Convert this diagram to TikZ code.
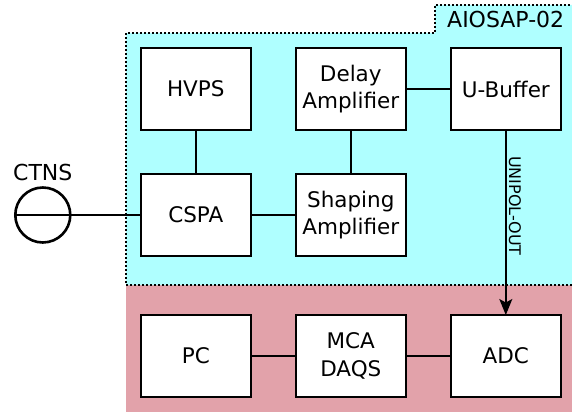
\documentclass[tikz,border=0pt]{standalone}
\usepackage{fontspec}
\setmainfont{DejaVu Sans}
\usepackage{tikz}
\usetikzlibrary{positioning,arrows.meta}
\definecolor{aiocyan}{RGB}{175,255,255}
\definecolor{daqpink}{RGB}{226,162,170}

\begin{document}
\begin{tikzpicture}[x=1pt, y=-1pt, node distance=45pt and 45pt,
    block/.style = {shape=rectangle, draw, fill=white, line width=2.6pt, outer sep=0pt, minimum width=110pt, minimum height=82pt, align=center, font=\fontsize{21.5}{27.7}\selectfont},
    link/.style = {line width=1.4pt},
    source/.style = {shape=circle, draw, line width=2.6pt, outer sep=0pt, minimum size=55pt, inner sep=0pt},
    boundary/.style = {line width=2pt, dash pattern=on 2pt off 2pt}]
    \useasboundingbox (0,0) rectangle (572,412);
    \fill[daqpink] (126,285) rectangle (572,412);
    \fill[aiocyan] (126,285) -- (126,33) -- (435,33) -- (435,5) -- (572,5) -- (572,285) -- cycle;
    \draw[boundary] (572,285) -- (126,285) -- (126,33) -- (435,33) -- (435,5) -- (572,5);
    \node[anchor=base west, inner sep=0pt, font=\fontsize{22}{26}\selectfont] (tabtitle) at (447,27.7) {AIOSAP-02};

    \node[block] (hvps) at (195.8,89) {HVPS};
    \node[block, right=45pt of hvps] (delay) {Delay\\Amplifier};
    \node[block, right=45pt of delay] (ubuf) {U-Buffer};
    \node[block, below=44pt of hvps] (cspa) {CSPA};
    \node[block, below=44pt of delay] (shaping) {Shaping\\Amplifier};
    \node[block, below=59pt of cspa] (pc) {PC};
    \node[block, right=45pt of pc] (mca) {MCA\\DAQS};
    \node[block, right=45pt of mca] (adc) {ADC};
    \node[source, left=70.5pt of cspa] (ctns) {};
    \node[above=6pt of ctns, inner sep=0pt, font=\fontsize{22}{26}\selectfont] (ctnslabel) {CTNS};

    \draw[line width=1.1pt] (ctns.west) -- (ctns.east);
    \draw[line width=2.2pt] (ctns) -- (cspa);
    \draw[link] (hvps) -- (cspa);
    \draw[link] (cspa) -- (shaping);
    \draw[link] (shaping) -- (delay);
    \draw[link] (delay) -- (ubuf);
    \draw[link] (pc) -- (mca);
    \draw[link] (mca) -- (adc);
    \draw[link, -{Stealth[length=16pt, width=13pt, inset=3.5pt]}] (ubuf) -- node[pos=0.41, rotate=-90, anchor=south, inner sep=2.5pt, font=\fontsize{16}{19}\selectfont] {UNIPOL-OUT} (adc);
\end{tikzpicture}
\end{document}
